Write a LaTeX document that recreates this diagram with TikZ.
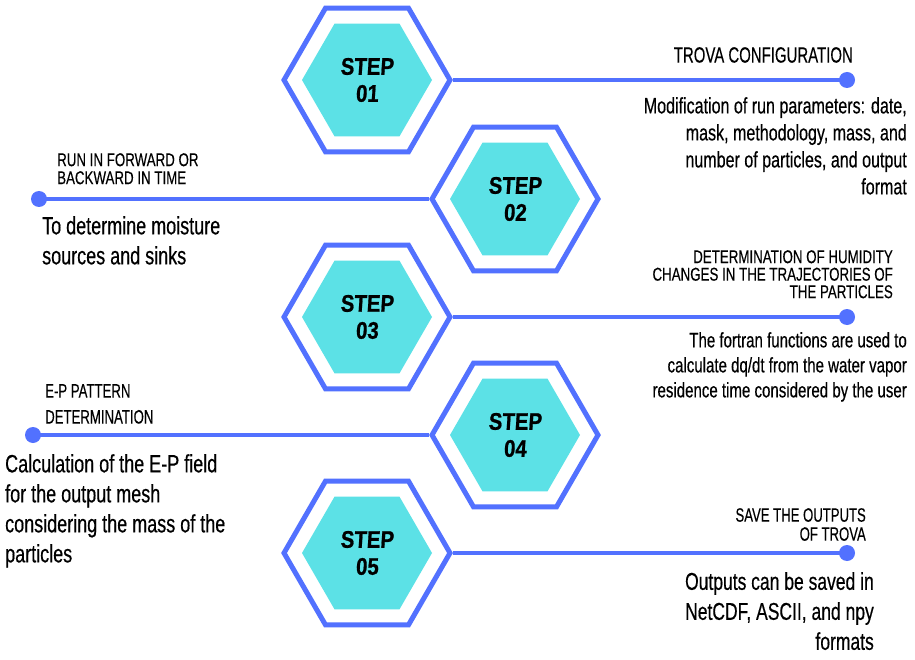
\documentclass[tikz,border=0pt]{standalone}
\usepackage{fontspec}
\usetikzlibrary{shapes.geometric}
\newfontfamily\tfont[FakeStretch=0.68,FakeBold=0.25]{Liberation Sans}
\newfontfamily\tfontw[FakeStretch=0.72,FakeBold=0.25]{Liberation Sans}
\newfontfamily\dfont[FakeStretch=0.72,FakeBold=0.4]{Liberation Sans}
\newfontfamily\sfont[FakeStretch=0.85,FakeSlant=0.06,FakeBold=0.8]{Liberation Sans}
\definecolor{hexblue}{HTML}{5271FF}
\definecolor{hexcyan}{HTML}{5CE1E6}
\tikzset{
  outerhex/.style={regular polygon, regular polygon sides=6, minimum size=166pt,
    inner sep=0pt, draw=hexblue, line width=5pt},
  innerhex/.style={regular polygon, regular polygon sides=6, minimum size=130pt,
    inner sep=0pt, fill=hexcyan, align=center,
    font=\sfont\bfseries\fontsize{24}{27}\selectfont},
  conn/.style={draw=hexblue, line width=4pt},
  dot/.style={circle, fill=hexblue, minimum size=16pt, inner sep=0pt},
  txt/.style={inner sep=0pt, text=black},
}
\begin{document}
\begin{tikzpicture}[x=1pt,y=-1pt]
\useasboundingbox[fill=white] (0,0) rectangle (915,660);

% hexagons
\foreach \n/\x/\y in {1/367/80,2/515/199,3/367/317,4/515/435,5/367/553}{
  \node[outerhex] (h\n) at (\x,\y) {};
}
\node[innerhex] (s1) at (h1) {STEP\\01};
\node[innerhex] (s2) at (h2) {STEP\\02};
\node[innerhex] (s3) at (h3) {STEP\\03};
\node[innerhex] (s4) at (h4) {STEP\\04};
\node[innerhex] (s5) at (h5) {STEP\\05};

% dots
\node[dot] (d1) at (847,80) {};
\node[dot] (d2) at (39,199) {};
\node[dot] (d3) at (847,317) {};
\node[dot] (d4) at (33,435) {};
\node[dot] (d5) at (847,553) {};

% connectors
\draw[conn] (h1.east) -- (d1.center);
\draw[conn] (h2.west) -- (d2.center);
\draw[conn] (h3.east) -- (d3.center);
\draw[conn] (h4.west) -- (d4.center);
\draw[conn] (h5.east) -- (d5.center);

% titles
\node[txt, anchor=north east, font=\tfont\fontsize{22}{22}\selectfont] (t1) at (853,47) {TROVA CONFIGURATION};
\node[txt, anchor=north west, align=left, font=\tfontw\fontsize{18.5}{18}\selectfont] (t2) at (57,153) {RUN IN FORWARD OR\\BACKWARD IN TIME};
\node[txt, anchor=north east, align=right, font=\tfontw\fontsize{18.5}{17.5}\selectfont] (t3) at (893,250) {DETERMINATION OF HUMIDITY\\CHANGES IN THE TRAJECTORIES OF\\THE PARTICLES};
\node[txt, anchor=north west, align=left, font=\tfont\fontsize{19.4}{26}\selectfont] (t4) at (45,384) {E-P PATTERN\\DETERMINATION};
\node[txt, anchor=north east, align=right, font=\tfont\fontsize{19.3}{19}\selectfont] (t5) at (866,508) {SAVE THE OUTPUTS\\OF TROVA};

% descriptions
\node[txt, anchor=north east, align=right, font=\dfont\fontsize{22.3}{27}\selectfont] (x1) at (907,97) {Modification of run parameters: date,\\mask, methodology, mass, and\\number of particles, and output\\format};
\node[txt, anchor=north west, align=left, font=\dfont\fontsize{25}{30}\selectfont] (x2) at (42,216) {To determine moisture\\sources and sinks};
\node[txt, anchor=north east, align=right, font=\dfont\fontsize{20.9}{25}\selectfont] (x3) at (907,332) {The fortran functions are used to\\calculate dq/dt from the water vapor\\residence time considered by the user};
\node[txt, anchor=north west, align=left, font=\dfont\fontsize{25}{30}\selectfont] (x4) at (5,454) {Calculation of the E-P field\\for the output mesh\\considering the mass of the\\particles};
\node[txt, anchor=north east, align=right, font=\dfont\fontsize{24.3}{30}\selectfont] (x5) at (874,572) {Outputs can be saved in\\NetCDF, ASCII, and npy\\formats};
\end{tikzpicture}
\end{document}
